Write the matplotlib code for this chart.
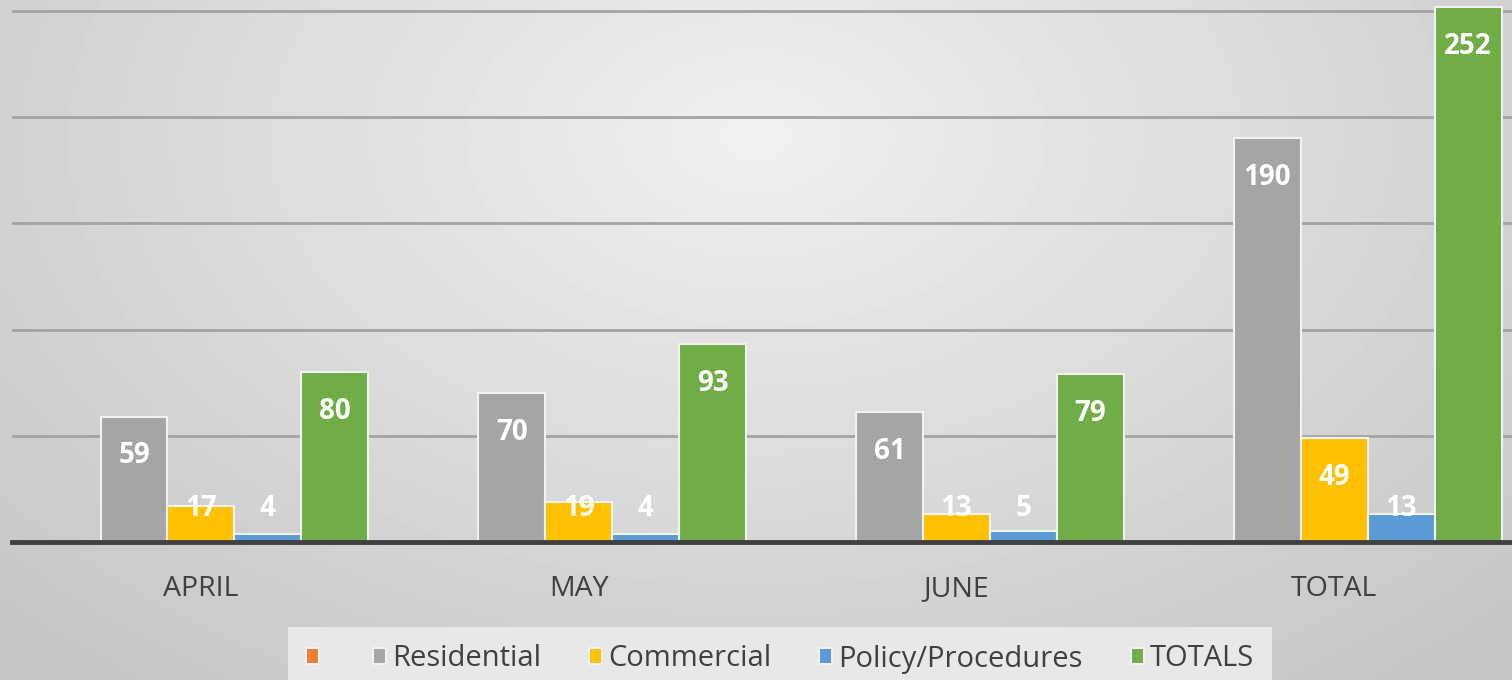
import matplotlib.pyplot as plt
import numpy as np

categories = ["APRIL", "MAY", "JUNE", "TOTAL"]
series_names = ["", "Residential", "Commercial", "Policy/Procedures", "TOTALS"]
blank = [0, 0, 0, 0]
residential = [59, 70, 61, 190]
commercial = [17, 19, 13, 49]
policy = [4, 4, 5, 13]
totals = [80, 93, 79, 252]

series = [blank, residential, commercial, policy, totals]
colors = ["#ED7D31", "#A5A5A5", "#FFC000", "#5B9BD5", "#70AD47"]

plt.rcParams["font.family"] = ["Open Sans", "DejaVu Sans"]

fig = plt.figure(figsize=(15.12, 6.8), dpi=100)

# soft radial gradient background
bg = fig.add_axes([0, 0, 1, 1], zorder=-10)
gx, gy = np.meshgrid(np.linspace(-1, 1, 300), np.linspace(-1, 1, 150))
r = np.sqrt((gx / 1.1) ** 2 + ((gy + 0.6) / 1.6) ** 2)
shade = 0.94 - 0.13 * np.clip(r, 0, 1.3)
bg.imshow(shade, cmap="gray", vmin=0, vmax=1, aspect="auto",
          extent=[0, 1, 0, 1], origin="upper", interpolation="bilinear")
bg.axis("off")

ax = fig.add_axes([12 / 1512, 138 / 680, 1500 / 1512, 542 / 680])
ax.set_facecolor("none")

x = np.arange(len(categories))
w = 0.177
handles = []
for i, vals in enumerate(series):
    pos = x + (i - 2) * w
    bars = ax.bar(pos, vals, width=w, color=colors[i], edgecolor="#F2F2F2",
                  linewidth=1.5, zorder=3)
    handles.append(bars)
    if i == 0:
        continue
    for px, v in zip(pos, vals):
        ax.text(px, max(v - 18.5, 16.0), str(v), ha="center", va="center",
                color="white", fontsize=20, fontweight="bold", zorder=5)

ax.set_xlim(-0.5, 3.47)
ax.set_ylim(0, 255.2)
ax.set_yticks([50, 100, 150, 200, 250])
ax.yaxis.grid(True, color="#A3A3A3", linewidth=2, zorder=1)
ax.set_axisbelow(True)
ax.axhline(0, color="#404040", linewidth=3.5, zorder=4, clip_on=False)
for s in ax.spines.values():
    s.set_visible(False)
ax.tick_params(axis="y", left=False, labelleft=False)
ax.tick_params(axis="x", bottom=False, pad=20)
ax.set_xticks(x)
ax.set_xticklabels(categories, fontsize=20.5, color="#404040")

leg = fig.legend(handles, series_names, loc="center",
                 bbox_to_anchor=(780 / 1512, (680 - 659) / 680), ncol=5,
                 fontsize=21, frameon=True, fancybox=False,
                 handlelength=0.45, handleheight=0.45, handletextpad=0.2,
                 columnspacing=1.65, borderpad=0.6, borderaxespad=0)
leg.get_frame().set_facecolor("#E8E8E8")
leg.get_frame().set_edgecolor("none")
leg.get_frame().set_alpha(1)
for t in leg.get_texts():
    t.set_color("#404040")

fig.savefig("out.png", dpi=100)
